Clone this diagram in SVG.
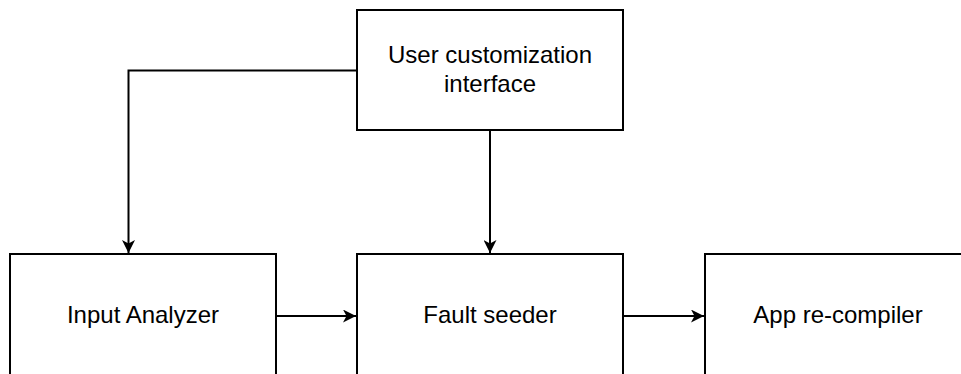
<svg xmlns="http://www.w3.org/2000/svg" width="961" height="374" viewBox="0 0 961 374">
  <style>
    .box { fill: #ffffff; stroke: #000000; stroke-width: 2; }
    .label { font-family: "Liberation Sans", Arial, sans-serif; font-size: 24px; fill: #000000; text-anchor: middle; }
    .edge { fill: none; stroke: #000000; stroke-width: 2; }
  </style>
  <defs>
    <marker id="arrow" viewBox="0 0 13 13" refX="13" refY="6.5" markerWidth="13" markerHeight="13" markerUnits="userSpaceOnUse" orient="auto">
      <path d="M0,0 L13,6.5 L0,13 L3.5,6.5 Z" fill="#000000"/>
    </marker>
  </defs>

  <rect width="961" height="374" fill="#ffffff"/>

  <g id="connectors">
    <path class="edge" d="M357,70.5 H128.5 V253" marker-end="url(#arrow)"/>
    <path class="edge" d="M490,130 V253" marker-end="url(#arrow)"/>
    <path class="edge" d="M276,316 H356" marker-end="url(#arrow)"/>
    <path class="edge" d="M623,316 H704" marker-end="url(#arrow)"/>
  </g>

  <g id="user-customization">
    <rect class="box" x="357" y="10" width="266" height="120"/>
    <text class="label" x="490" y="63">User customization</text>
    <text class="label" x="490" y="92">interface</text>
  </g>

  <g id="input-analyzer">
    <rect class="box" x="10" y="254" width="266" height="130"/>
    <text class="label" x="143" y="323">Input Analyzer</text>
  </g>

  <g id="fault-seeder">
    <rect class="box" x="357" y="254" width="266" height="130"/>
    <text class="label" x="490" y="323">Fault seeder</text>
  </g>

  <g id="app-recompiler">
    <rect class="box" x="705" y="254" width="266" height="130"/>
    <text class="label" x="838" y="323">App re-compiler</text>
  </g>
</svg>
